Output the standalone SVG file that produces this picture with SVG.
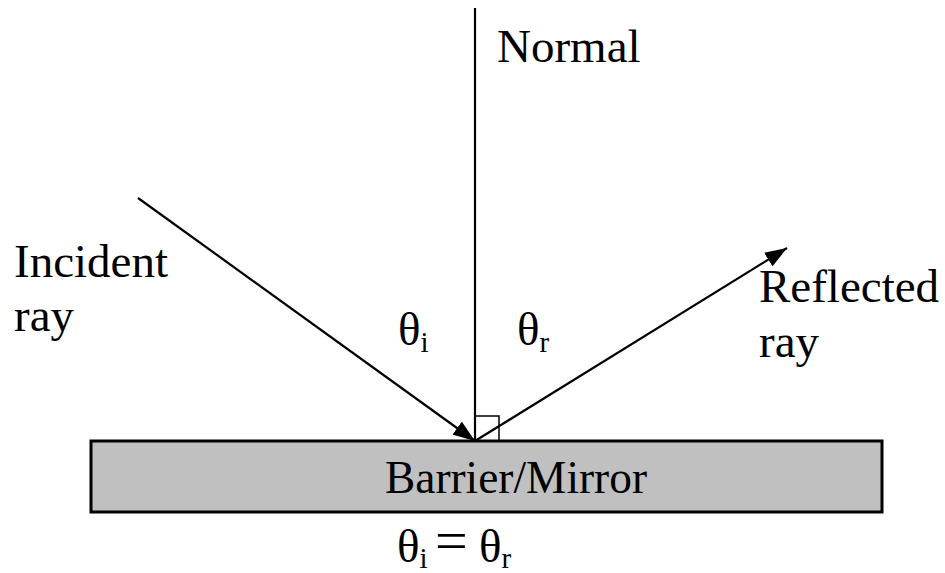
<svg xmlns="http://www.w3.org/2000/svg" width="945" height="573" viewBox="0 0 945 573">
<style>
text{font-family:"Liberation Serif","Times New Roman",serif;fill:#000}
.lbl{font-size:47px}
.sub{font-size:29px}
.eq{font-size:58px}
.ln{stroke:#000;stroke-width:2.2;fill:none}
</style>
<defs>
<marker id="ah" markerUnits="userSpaceOnUse" markerWidth="24" markerHeight="16" refX="22" refY="8" orient="auto">
<path d="M0,0 L22,8 L0,16 Z" fill="#000"/>
</marker>
</defs>
<rect width="945" height="573" fill="#fff"/>
<g id="mirror">
<rect x="91" y="441" width="791" height="71" fill="#c0c0c0" stroke="#000" stroke-width="3"/>
<text class="lbl" x="516" y="493" text-anchor="middle" textLength="262" lengthAdjust="spacingAndGlyphs">Barrier/Mirror</text>
</g>
<g id="connectors">
<line id="normal" class="ln" x1="475" y1="8" x2="475" y2="441"/>
<line id="incident" class="ln" x1="138" y1="198" x2="475" y2="441" marker-end="url(#ah)"/>
<line id="reflected" class="ln" x1="475" y1="441" x2="787" y2="248" marker-end="url(#ah)"/>
<rect id="rightangle" x="475" y="416" width="24" height="25" fill="none" stroke="#000" stroke-width="1.5"/>
</g>
<g id="labels">
<text class="lbl" x="497" y="62">Normal</text>
<text class="lbl" x="14" y="277">Incident</text>
<text class="lbl" x="14" y="331">ray</text>
<text class="lbl" x="759" y="302">Reflected</text>
<text class="lbl" x="759" y="357">ray</text>
<text class="lbl" x="398" y="345">θ<tspan class="sub" dy="7">i</tspan></text>
<text class="lbl" x="517" y="345">θ<tspan class="sub" dy="7">r</tspan></text>
<g id="equation">
<text class="lbl" x="397" y="562">θ<tspan class="sub" dy="6">i</tspan></text>
<text class="eq" x="435" y="560">=</text>
<text class="lbl" x="479" y="562">θ<tspan class="sub" dy="6">r</tspan></text>
</g>
</g>
</svg>
